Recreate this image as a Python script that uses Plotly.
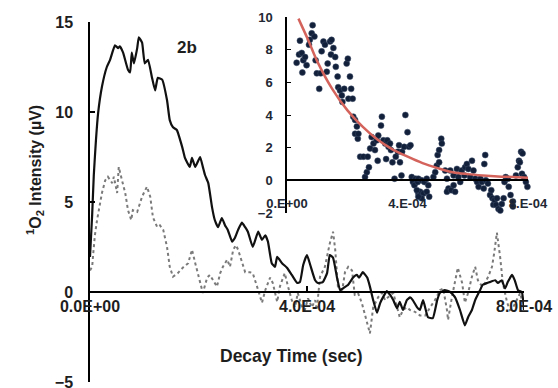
import plotly.graph_objects as go

# ---- main panel data (time in units of 1e-4 s, intensity in µV) ----
solid_t = [0.0, 0.04, 0.07, 0.11, 0.15, 0.22, 0.31, 0.37, 0.46, 0.52, 0.55, 0.61, 0.70, 0.74, 0.77, 0.81,
           0.87, 0.90, 0.96, 1.01, 1.07, 1.14, 1.20, 1.25, 1.33, 1.42, 1.47, 1.53, 1.60, 1.70, 1.75, 1.84,
           1.88, 1.94, 2.03, 2.08, 2.12, 2.18, 2.25, 2.30, 2.36, 2.43, 2.49, 2.54, 2.62, 2.67, 2.73, 2.80,
           2.86, 2.91, 3.00, 3.10, 3.17, 3.23, 3.28, 3.35, 3.41, 3.45, 3.54, 3.63, 3.72, 3.82, 3.87, 3.93,
           4.00, 4.06, 4.15, 4.20, 4.29, 4.37, 4.42, 4.48, 4.55, 4.61, 4.66, 4.76, 4.85, 4.92, 4.96, 5.03,
           5.11, 5.16, 5.22, 5.29, 5.35, 5.40, 5.47, 5.53, 5.59, 5.66, 5.71, 5.77, 5.84, 5.90, 5.95, 6.03,
           6.08, 6.14, 6.23, 6.32, 6.40, 6.45, 6.54, 6.64, 6.73, 6.82, 6.91, 6.97, 7.04, 7.10, 7.19, 7.24,
           7.32, 7.37, 7.47, 7.52, 7.59, 7.65, 7.70, 7.78, 7.83, 7.89, 7.96, 8.00]
solid_v = [1.95, 4.3, 6.5, 8.45, 9.95, 11.4, 12.5, 12.9, 13.7, 13.55, 13.65, 13.3, 12.35, 12.2, 13.3, 12.7,
           13.55, 14.15, 13.85, 12.7, 12.9, 11.95, 11.2, 11.9, 11.8, 10.65, 9.55, 9.15, 9.0, 8.05, 7.45, 6.95,
           7.45, 6.95, 7.5, 6.95, 6.5, 6.05, 4.7, 4.0, 3.6, 4.1, 3.7, 3.45, 2.8, 3.0, 3.45, 3.85,
           3.6, 3.35, 2.5, 3.35, 2.9, 3.15, 2.8, 1.6, 1.4, 1.95, 1.6, 1.35, 0.95, 0.5, 0.55, 1.5,
           2.05, 1.5, 0.65, 0.5, 0.55, 1.05, 2.05, 1.9, 0.85, 0.1, 0.2, 0.4, 0.8, 0.95, 0.8, 1.1,
           0.8, 0.3, -0.45, -1.15, -0.6, -0.3, 0.05, -0.15, -0.45, -0.9, -0.55, -1.0, -0.45, -0.3, -0.45, -0.85,
           -1.0, -0.45, -1.4, -1.45, -0.45, -0.05, 0.1, 0.0, -0.3, -1.0, -1.85, -1.4, -1.0, -0.45, 0.1, 0.4,
           0.5, 0.55, 0.65, 0.5, 0.65, 0.2, 0.55, 0.95, 0.65, 0.1, 0.0, -1.0]

dotted_t = [0.0, 0.04, 0.06, 0.09, 0.13, 0.22, 0.28, 0.33, 0.41, 0.44, 0.50, 0.53, 0.59, 0.65, 0.70, 0.76,
            0.79, 0.87, 0.96, 1.05, 1.11, 1.16, 1.24, 1.29, 1.35, 1.42, 1.47, 1.53, 1.62, 1.71, 1.81, 1.88,
            1.94, 2.03, 2.08, 2.16, 2.21, 2.27, 2.34, 2.40, 2.45, 2.53, 2.58, 2.64, 2.69, 2.73, 2.80, 2.86,
            2.95, 3.00, 3.10, 3.17, 3.23, 3.32, 3.37, 3.45, 3.50, 3.59, 3.65, 3.72, 3.78, 3.83, 3.91, 3.96,
            4.02, 4.09, 4.15, 4.18, 4.24, 4.33, 4.42, 4.48, 4.52, 4.57, 4.65, 4.70, 4.76, 4.83, 4.88, 4.94,
            5.01, 5.11, 5.16, 5.22, 5.31, 5.38, 5.44, 5.49, 5.59, 5.66, 5.71, 5.77, 5.84, 5.90, 5.99, 6.08,
            6.18, 6.27, 6.36, 6.45, 6.51, 6.58, 6.60, 6.67, 6.73, 6.78, 6.86, 6.91, 6.97, 7.04, 7.10, 7.15,
            7.23, 7.28, 7.34, 7.41, 7.45, 7.50, 7.56, 7.61, 7.69, 7.74, 7.80, 7.87, 7.93, 7.96]
dotted_v = [1.2, 1.4, 2.15, 3.15, 4.0, 5.5, 6.2, 6.4, 6.05, 6.4, 5.5, 6.95, 6.2, 5.5, 4.55, 4.0,
            4.55, 4.45, 5.3, 5.85, 5.3, 4.15, 3.6, 3.7, 3.45, 2.5, 1.4, 0.85, 1.05, 1.35, 1.6, 2.35,
            1.6, 0.5, -0.05, 0.8, 0.95, 0.65, 0.3, 1.05, 1.4, 1.8, 1.4, 2.35, 2.6, 2.35, 1.6, 1.1,
            1.1, 1.05, 0.1, -0.6, 0.1, 0.8, 0.5, -0.55, 0.3, 1.05, 0.3, -0.45, -0.85, -0.05, -0.85, -1.0,
            -0.35, -0.85, -0.45, -1.0, 0.85, 1.4, 2.7, 3.35, 2.35, 0.3, 0.1, 1.1, 1.4, 1.2, -0.15, -0.05,
            -0.6, -1.7, -2.3, -0.85, -0.3, -0.05, -0.45, -0.3, -0.05, -0.85, -1.4, -1.0, -0.85, -1.0, -1.1, -1.3,
            -1.3, -0.85, -0.45, 0.1, 0.2, -1.0, -1.55, -0.3, 0.65, 1.35, 0.5, -0.6, -0.05, 0.85, 1.4, 0.65,
            0.3, 0.5, 0.85, 1.4, 2.15, 3.3, 1.95, 0.5, -0.6, -1.0, -0.85, -0.45, -0.05, -0.45]

main_tickvals = [0, 4, 8]
main_ticktext = ["0.0E+00", "4.0E-04", "8.0E-04"]
main_yticks = [-5, 0, 5, 10, 15]

# ---- inset data ----
pts_t = [0.32, 0.40, 0.43, 0.49, 0.51, 0.54, 0.60, 0.65, 0.73, 0.76, 0.82, 0.85, 0.91, 0.95, 0.99, 1.07,
         1.12, 1.15, 1.21, 1.26, 1.32, 1.35, 1.43, 1.46, 1.48, 1.54, 1.60, 1.62, 1.68, 1.70, 1.76, 1.82,
         1.84, 1.90, 1.98, 2.02, 2.04, 2.09, 2.13, 2.18, 2.20, 2.26, 2.32, 2.26, 2.35, 2.37, 2.43, 2.54,
         2.59, 2.65, 2.68, 2.72, 2.76, 2.81, 2.87, 2.92, 2.98, 3.01, 3.03, 3.12, 3.15, 3.20, 3.26, 3.29,
         3.33, 3.37, 3.42, 3.45, 3.50, 3.57, 3.61, 3.68, 3.72, 3.75, 3.80, 3.82, 3.89, 3.93, 4.00, 4.05,
         4.10, 4.14, 4.18, 4.23, 4.27, 4.34, 4.36, 4.36, 4.47, 4.56, 4.64, 4.69, 4.42, 4.53, 4.64, 4.72,
         4.47, 4.36, 4.31, 4.86, 4.92, 4.97, 5.05, 5.00, 5.05, 5.12, 5.14, 5.25, 5.31, 5.36, 5.31, 5.45,
         5.53, 5.58, 5.42, 5.53, 5.64, 5.69, 5.75, 5.80, 5.89, 5.91, 5.97, 6.02, 6.08, 6.14, 6.19, 6.25,
         6.31, 6.36, 6.42, 6.47, 6.53, 6.58, 6.55, 6.60, 6.67, 6.74, 6.78, 6.82, 6.85, 6.89, 6.94, 6.97,
         7.02, 7.08, 7.13, 7.19, 7.22, 7.26, 7.33, 7.36, 7.42, 7.50, 7.50, 7.60, 7.66, 7.70, 7.73, 7.77,
         7.82, 7.80, 7.87, 7.93, 7.98, 8.05]
pts_v = [7.2, 7.7, 8.55, 7.8, 6.6, 7.35, 7.55, 7.05, 8.3, 8.6, 9.0, 9.5, 8.8, 7.35, 6.55, 5.6,
         6.55, 7.9, 8.5, 8.3, 6.65, 7.15, 8.5, 7.7, 8.6, 8.1, 7.55, 6.95, 6.35, 5.7, 5.5, 5.2,
         4.8, 5.6, 7.15, 7.45, 5.0, 6.35, 5.6, 5.0, 3.9, 3.7, 3.3, 2.85, 2.55, 2.85, 1.45, 1.45,
         0.2, 0.5, 1.45, 0.8, 1.95, 2.65, 2.25, 1.85, 2.45, 1.2, 2.75, 3.35, 3.9, 2.45, 2.25, 1.3,
         2.45, 2.05, 2.25, 1.85, 1.1, 0.1, 1.45, 1.75, 2.15, 1.1, 0.3, 1.75, 2.05, 4.0, 2.95, 2.05,
         2.15, 0.2, -0.1, -0.3, 0.1, -0.1, -0.8, 0.1, 0.0, -0.1, 0.1, -0.3, -0.7, -0.8, -0.7, -1.0,
         -1.1, -1.0, -0.6, 0.2, 0.5, 0.9, 1.1, 1.55, 1.85, 2.55, 2.25, 0.6, 0.1, -0.5, -0.7, -0.6,
         -0.3, -0.7, 0.6, 0.3, 0.7, 0.2, -0.1, 0.6, 0.3, 0.8, 1.0, 0.7, 0.2, 1.2, 0.6, 0.1,
         -0.1, -0.4, 0.1, -0.1, -0.5, 1.55, 1.0, 0.0, -0.2, -0.9, -0.6, -1.1, -1.5, -1.2, -1.5, -1.1,
         -1.75, -1.85, -1.45, -1.1, -0.1, 0.2, 0.1, -0.4, -0.9, -1.3, -1.6, 0.3, 0.8, 1.2, 1.1, 1.75,
         1.65, 0.4, 0.2, -0.1, -0.4, -0.7]
fit_t = [0.38, 0.7, 1.0, 1.5, 2.0, 2.5, 3.0, 3.5, 4.0, 4.5, 5.0, 5.5, 6.0, 6.5, 7.0, 7.5, 8.05]
fit_v = [9.9, 8.6, 7.3, 5.6, 4.3, 3.3, 2.5, 1.9, 1.45, 1.05, 0.75, 0.5, 0.38, 0.3, 0.24, 0.2, 0.15]
inset_tickvals = [0, 4, 8]
inset_ticktext = ["0.E+00", "4.E-04", "8.E-04"]
inset_yticks = [-2, 0, 2, 4, 6, 8, 10]

S = 1e-4
FONT = "Liberation Sans, Arial, sans-serif"
TXT = "#1e1e1e"

fig = go.Figure()
fig.add_trace(go.Scatter(x=[t * S for t in dotted_t], y=dotted_v, mode="lines",
                         line=dict(color="#7a7a7a", width=2, dash="dot"), xaxis="x", yaxis="y"))
fig.add_trace(go.Scatter(x=[t * S for t in solid_t], y=solid_v, mode="lines",
                         line=dict(color="#111111", width=2.2, shape="spline", smoothing=0.4),
                         xaxis="x", yaxis="y"))
fig.add_trace(go.Scatter(x=[t * S for t in pts_t], y=pts_v, mode="markers",
                         marker=dict(color="#13203a", size=6, line=dict(color="#3a4a66", width=0.5)),
                         xaxis="x2", yaxis="y2", cliponaxis=False))
fig.add_trace(go.Scatter(x=[t * S for t in fit_t], y=fit_v, mode="lines",
                         line=dict(color="#d4635c", width=2.5, shape="spline"),
                         xaxis="x2", yaxis="y2", cliponaxis=False))

W, H = 558, 388
fig.update_layout(
    width=W, height=H, margin=dict(l=0, r=0, t=0, b=0, autoexpand=False),
    paper_bgcolor="white", plot_bgcolor="rgba(0,0,0,0)", showlegend=False,
    font=dict(family=FONT, color=TXT),
    xaxis=dict(domain=[90 / W, 524 / W], range=[0, 8 * S], anchor="free", position=(H - 292) / H,
               automargin=False, ticklabeloverflow="allow",
               showgrid=False, zeroline=False, showline=True, linecolor="black", linewidth=2,
               tickmode="array", tickvals=[v * S for v in main_tickvals], ticktext=main_ticktext,
               ticks="inside", ticklen=5, tickcolor="black", tickwidth=1.5,
               tickfont=dict(size=16, weight="bold", color=TXT), ticklabelstandoff=0),
    yaxis=dict(domain=[(H - 382) / H, (H - 22) / H], range=[-5, 15], anchor="x", automargin=False,
               ticklabeloverflow="allow",
               showgrid=False, zeroline=False, showline=True, linecolor="black", linewidth=1.5,
               tickmode="array", tickvals=main_yticks, ticks="inside", ticklen=5, tickcolor="black",
               tickwidth=1.5, tickfont=dict(size=16, weight="bold", color=TXT), ticklabelstandoff=12),
    xaxis2=dict(domain=[287 / W, 528 / W], range=[0, 8 * S], anchor="free", position=(H - 180) / H,
                automargin=False, ticklabeloverflow="allow",
                showgrid=False, zeroline=False, showline=True, linecolor="black", linewidth=1.8,
                tickmode="array", tickvals=[v * S for v in inset_tickvals], ticktext=inset_ticktext,
                ticks="", tickfont=dict(size=13, weight="bold", color="#222833"), ticklabelstandoff=11),
    yaxis2=dict(domain=[(H - 213) / H, (H - 17) / H], range=[-2, 10], anchor="x2", automargin=False,
                ticklabeloverflow="allow",
                showgrid=False, zeroline=False, showline=True, linecolor="black", linewidth=1.5,
                tickmode="array", tickvals=inset_yticks, ticks="inside", ticklen=4, tickcolor="black",
                tickwidth=1.2, tickfont=dict(size=13, weight="bold", color="#222833"), ticklabelstandoff=10),
)

fig.add_annotation(x=291 / W, y=(H - 368) / H, xref="paper", yref="paper", showarrow=False,
                   text="Decay Time (sec)", font=dict(size=17.5, weight="bold", color=TXT))
fig.add_annotation(x=22 / W, y=(H - 170) / H, xref="paper", yref="paper", showarrow=False, textangle=-90,
                   text="<sup>1</sup>O<sub>2</sub> Intensity (µV)", font=dict(size=16, weight="bold", color=TXT))
fig.add_annotation(x=187 / W, y=(H - 36) / H, xref="paper", yref="paper", showarrow=False,
                   text="2b", font=dict(size=17, weight="bold", color=TXT))

fig.write_html("out.html")
